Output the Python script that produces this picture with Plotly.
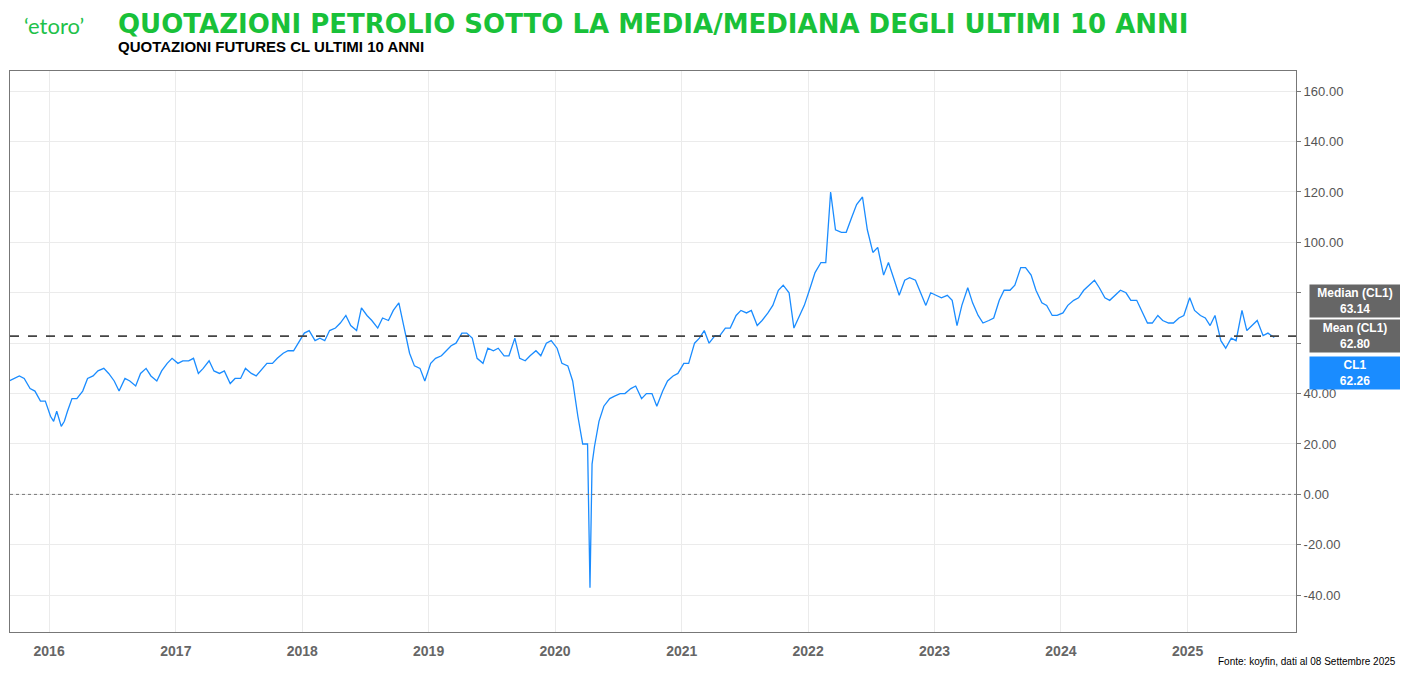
import plotly.graph_objects as go

dates = []
values = []
raw = {
2015: [(9,[45,46]),(10,[47,46]),(11,[42,41]),(12,[37,37])],
2016: [(1,[31,29,33]),(2,[27,29,33]),(3,[38,38]),(4,[41,46]),(5,[47,49]),(6,[50,48]),(7,[45,41]),(8,[46,45]),(9,[43,48]),(10,[50,47]),(11,[45,49]),(12,[52,54])],
2017: [(1,[52,53]),(2,[53,54]),(3,[48,50]),(4,[53,49]),(5,[48,49]),(6,[44,46]),(7,[46,50]),(8,[48,47]),(9,[50,52]),(10,[52,54]),(11,[56,57]),(12,[57,60])],
2018: [(1,[64,65]),(2,[61,62]),(3,[61,65]),(4,[66,68]),(5,[71,67]),(6,[65,74]),(7,[71,69]),(8,[66,70]),(9,[69,73]),(10,[76,67]),(11,[56,51]),(12,[50,45])],
2019: [(1,[52,54]),(2,[55,57]),(3,[59,60]),(4,[64,64]),(5,[62,54]),(6,[52,58]),(7,[57,58]),(8,[55,55]),(9,[62,54]),(10,[53,55]),(11,[57,55]),(12,[60,61])],
2020: [(1,[58,52]),(2,[51,45]),(3,[31,20]),(4,[20,-37,12,19]),(5,[29,35]),(6,[38,39]),(7,[40,40]),(8,[42,43]),(9,[38,40]),(10,[40,35]),(11,[41,45]),(12,[47,48])],
2021: [(1,[52,52]),(2,[60,62]),(3,[65,60]),(4,[63,63]),(5,[66,66]),(6,[71,73]),(7,[72,73]),(8,[67,69]),(9,[72,75]),(10,[81,83]),(11,[80,66]),(12,[71,75])],
2022: [(1,[82,88]),(2,[92,92]),(3,[120,105]),(4,[104,104]),(5,[110,115]),(6,[118,105]),(7,[96,98]),(8,[87,92]),(9,[85,79]),(10,[85,86]),(11,[85,80]),(12,[75,80])],
2023: [(1,[79,78]),(2,[79,77]),(3,[67,75]),(4,[82,76]),(5,[71,68]),(6,[69,70]),(7,[77,81]),(8,[81,83]),(9,[90,90]),(10,[87,81]),(11,[76,75]),(12,[71,71])],
2024: [(1,[72,75]),(2,[77,78]),(3,[81,83]),(4,[85,82]),(5,[78,77]),(6,[79,81]),(7,[80,77]),(8,[77,73]),(9,[68,68]),(10,[71,69]),(11,[68,68]),(12,[70,71])],
2025: [(1,[78,73]),(2,[71,70]),(3,[67,71]),(4,[61,58]),(5,[62,61]),(6,[73,65]),(7,[67,69]),(8,[63,64]),(9,[62.26])],
}
for y, months in raw.items():
    for m, vals in months:
        n = len(vals)
        for i, v in enumerate(vals):
            day = 1 + int(27 * (i + 0.5) / n) if not (y == 2025 and m == 9) else 8
            dates.append(f"{y}-{m:02d}-{day:02d}")
            values.append(v)

mean_val = 62.80
median_val = 63.14
last_val = 62.26
year_ticks = [f"{y}-01-01" for y in range(2016, 2026)]
year_labels = [f"<b>{y}</b>" for y in range(2016, 2026)]
y_ticks = list(range(-40, 161, 20))
y_labels = ["" if v in (60, 80) else f"{v:.2f}" for v in y_ticks]

fig = go.Figure()
fig.add_trace(go.Scatter(x=dates, y=values, mode="lines",
                         line=dict(color="#1a8cff", width=1.3), showlegend=False))
fig.add_hline(y=mean_val, line=dict(color="#444", width=1.8, dash="dash"))
fig.add_hline(y=0, line=dict(color="#777", width=1, dash="dot"))

fig.update_layout(
    width=1400, height=671, paper_bgcolor="white", plot_bgcolor="white",
    margin=dict(l=2, r=112, t=63, b=47, autoexpand=False),
    font=dict(family="Liberation Sans, Arial", color="#555"),
    xaxis=dict(range=["2015-09-10", "2025-11-10"], tickvals=year_ticks, ticktext=year_labels,
               showgrid=True, gridcolor="#ebebeb", showline=True, linecolor="#777", mirror=True,
               tickfont=dict(size=14, color="#666", family="Liberation Sans, Arial"), ticks="",
               ticklabelstandoff=6),
    yaxis=dict(range=[-54.6, 168], side="right", tickvals=y_ticks,
               ticktext=y_labels, showgrid=True, gridcolor="#ebebeb",
               showline=True, linecolor="#777", mirror=True, ticks="outside", ticklen=4,
               tickcolor="#777", zeroline=False, tickfont=dict(size=13, color="#555")),
)

def box(yv, text, color):
    fig.add_annotation(xref="paper", yref="y", x=1.0102, y=yv, xanchor="left", yanchor="middle",
                       text=text, showarrow=False, bgcolor=color, width=88, height=30,
                       font=dict(size=12, color="white", family="Liberation Sans, Arial"),
                       borderpad=1)
box(76.8, "<b>Median (CL1)<br>63.14</b>", "#666666")
box(63.0, "<b>Mean (CL1)<br>62.80</b>", "#666666")
box(48.3, "<b>CL1<br>62.26</b>", "#1a8cff")

fig.add_annotation(xref="paper", yref="paper", x=0.0, y=1.0, xanchor="left", yanchor="bottom",
                   xshift=12, yshift=30, text="‘etoro’", showarrow=False,
                   font=dict(size=22, color="#1ec14a", family="Lato, Arial"))
fig.add_annotation(xref="paper", yref="paper", x=0, y=1, xanchor="left", yanchor="bottom",
                   xshift=106, yshift=30, text="<b>QUOTAZIONI PETROLIO SOTTO LA MEDIA/MEDIANA DEGLI ULTIMI 10 ANNI</b>",
                   showarrow=False, font=dict(size=26, color="#19c139", family="DejaVu Sans, Arial"))
fig.add_annotation(xref="paper", yref="paper", x=0, y=1, xanchor="left", yanchor="bottom",
                   xshift=106, yshift=14, text="<b>QUOTAZIONI FUTURES CL ULTIMI 10 ANNI</b>",
                   showarrow=False, font=dict(size=15, color="black", family="Liberation Sans, Arial"))
fig.add_annotation(xref="paper", yref="paper", x=1, y=0, xanchor="right", yanchor="top",
                   xshift=102, yshift=-22, text="Fonte: koyfin, dati al 08 Settembre 2025",
                   showarrow=False, font=dict(size=10, color="black", family="Liberation Sans, Arial"))

fig.write_html("out.html")
